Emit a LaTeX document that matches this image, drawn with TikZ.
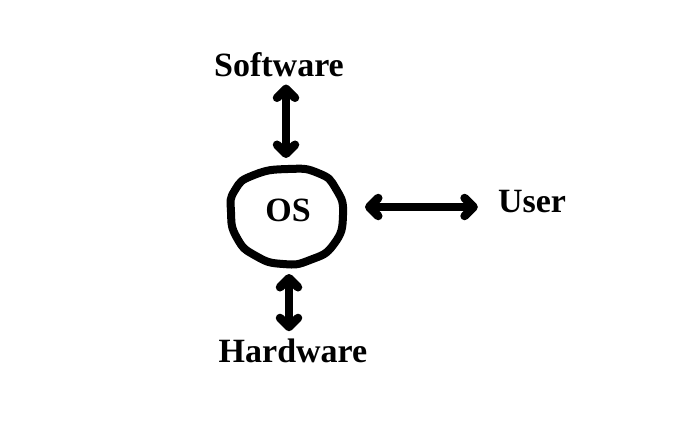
\documentclass[tikz,border=0pt]{standalone}
\usepgflibrary{arrows.meta}
\usepackage{xcolor}
\usepackage{fontspec}
\setmainfont{Liberation Serif}

\begin{document}
\begin{tikzpicture}[x=1pt,y=-1pt,>={Straight Barb[length=9pt,width=18pt,round]},
  word/.style={inner sep=0pt,anchor=base,font=\fontsize{34}{40}\selectfont\bfseries},
  link/.style={<->,line width=8.5pt}]
  \useasboundingbox (0,0) rectangle (700,422);

  \node[word](soft) at (279,77) {Software};
  \node[word](os) at (288,221) {OS};
  \node[word](user) at (532,212) {User};
  \node[word](hard) at (293,362) {Hardware};

  % the hand drawn ring round OS
  \draw[line width=8pt,line join=round] plot[smooth cycle,tension=0.9] coordinates
    {(288,169) (318,173) (336,189) (343,215) (334,244) (310,260)
     (283,264) (256,256) (237,238) (231,212) (235,190) (254,175)};
  \coordinate (ring-n) at (286,165);
  \coordinate (ring-e) at (347,207);
  \coordinate (ring-s) at (289,268);

  \draw[link,shorten <=7pt,shorten >=7pt] (soft.south -| ring-n) -- (ring-n);
  \draw[link,shorten <=18pt,shorten >=20pt] (ring-e) -- (ring-e -| user.west);
  \draw[link,shorten <=6pt,shorten >=7pt] (ring-s) -- (ring-s |- hard.north);
\end{tikzpicture}
\end{document}
